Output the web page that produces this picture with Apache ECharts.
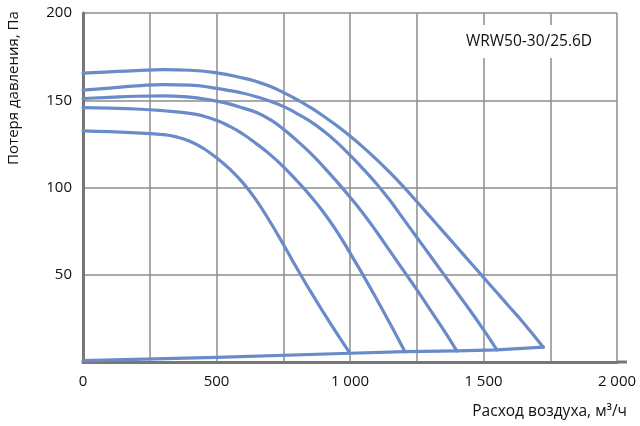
<!DOCTYPE html>
<html><head><meta charset="utf-8">
<script src="https://cdn.jsdelivr.net/npm/echarts@6/dist/echarts.min.js"></script>
<style>html,body{margin:0;padding:0;background:#fff}#c{width:640px;height:426px}</style>
</head><body><div id="c"></div>
<script>
const xTicks = [0, 500, 1000, 1500, 2000];
const yTicks = [50, 100, 150, 200];
const modelLabel = 'WRW50-30/25.6D';
const yName = 'Потеря давления, Па';
const xName = 'Расход воздуха, м³/ч';

const curve1 = [[0,165.5],[100,166.3],[200,167],[300,167.5],[400,167.2],[500,165.7],[600,162.7],[650,160.7],[700,158],[750,154.5],[800,150.5],[850,146],[900,141],[950,135.5],[1000,129.5],[1050,123],[1100,116],[1150,108.5],[1200,100.5],[1250,92],[1300,83.3],[1350,74.6],[1400,65.9],[1450,57.2],[1500,48.5],[1550,39.8],[1600,31.1],[1650,22.4],[1724,8.5]];
const curve2 = [[0,155.8],[100,157],[200,158.2],[300,159],[400,158.7],[500,156.8],[550,155.5],[600,154],[650,152],[700,149.5],[750,146.5],[800,142.5],[850,138],[900,132.5],[950,126],[1000,118.5],[1050,110.5],[1100,102],[1150,92.5],[1200,82],[1250,71.5],[1300,61],[1350,50.5],[1400,40],[1450,29.5],[1500,18.5],[1550,7]];
const curve3 = [[0,151],[100,151.7],[200,152.3],[300,152.5],[400,151.8],[450,150.8],[500,149.5],[550,147.8],[600,145.5],[650,143],[700,139],[750,133.5],[800,127],[850,120],[900,112],[950,103.5],[1000,94.5],[1050,85],[1100,74.5],[1150,63.5],[1200,52.5],[1250,41.5],[1300,30],[1350,18.5],[1400,6.4]];
const curve4 = [[0,145.8],[100,145.5],[200,145],[300,144],[400,142.5],[450,141],[500,138.5],[550,135],[600,130.5],[650,125],[700,119],[750,112],[800,104],[850,95.5],[900,86],[950,75],[1000,62.5],[1050,49.5],[1100,36],[1150,22],[1206,5.9]];
const curve5 = [[0,132.5],[100,132],[200,131.3],[300,130.3],[350,129],[400,126.5],[450,122.5],[500,117],[550,110.5],[600,102.5],[650,92.5],[700,80.5],[750,67.5],[800,54],[850,41],[900,28.5],[950,16.5],[1000,5]];
const systemLine = [[0,0.8],[500,2.7],[1000,5],[1206,5.9],[1400,6.4],[1550,7],[1724,8.5]];

const curves = [curve1, curve2, curve3, curve4, curve5];
const lineColor = '#6a8bc9';
const font = 'Open Sans';

const chart = echarts.init(document.getElementById('c'));
const series = curves.map(d => ({
  type: 'line', data: d, smooth: 0.5, symbol: 'none',
  lineStyle: {color: lineColor, width: 3.2, join: 'round', cap: 'round'}, silent: true
}));
series.push({type: 'line', data: systemLine, smooth: false, symbol: 'none',
  lineStyle: {color: lineColor, width: 3.2, join: 'round', cap: 'round'}, silent: true});

chart.setOption({
  animation: false,
  grid: {left: 83, right: 23, top: 13, bottom: 64},
  xAxis: {
    type: 'value', min: 0, max: 2000, interval: 250,
    axisLine: {show: true, lineStyle: {color: '#777', width: 3}},
    axisTick: {show: false},
    splitLine: {show: true, lineStyle: {color: '#8c8c8c', width: 1.5}},
    axisLabel: {
      color: '#111', fontFamily: font, fontSize: 15, margin: 12,
      formatter: v => xTicks.includes(v) ? (v >= 1000 ? String(v).replace(/\B(?=(\d{3})+(?!\d))/g, ' ') : String(v)) : ''
    }
  },
  yAxis: {
    type: 'value', min: 0, max: 200, interval: 50,
    axisLine: {show: true, lineStyle: {color: '#777', width: 3}},
    axisTick: {show: false},
    splitLine: {show: true, lineStyle: {color: '#8c8c8c', width: 1.5}},
    axisLabel: {
      color: '#111', fontFamily: font, fontSize: 15, margin: 11,
      formatter: v => yTicks.includes(v) ? String(v) : ''
    }
  },
  graphic: [
    {type: 'line', shape: {x1: 617, y1: 362, x2: 627, y2: 362}, style: {stroke: '#777', lineWidth: 3}},
    {type: 'rect', shape: {x: 460, y: 25, width: 140, height: 33}, style: {fill: '#fff'}, z: 10},
    {type: 'text', x: 529, y: 42, z: 11, style: {text: modelLabel, fill: '#111', font: '15.5px "Open Sans"', align: 'center', verticalAlign: 'middle'}},
    {type: 'text', x: 14, y: 88, rotation: Math.PI/2, z: 11, style: {text: yName, fill: '#111', font: '15px "Open Sans"', align: 'center', verticalAlign: 'middle'}},
    {type: 'text', x: 627, y: 412, z: 11, style: {text: xName, fill: '#111', font: '15.5px "Open Sans"', align: 'right', verticalAlign: 'middle'}}
  ],
  series: series
});
</script></body></html>
